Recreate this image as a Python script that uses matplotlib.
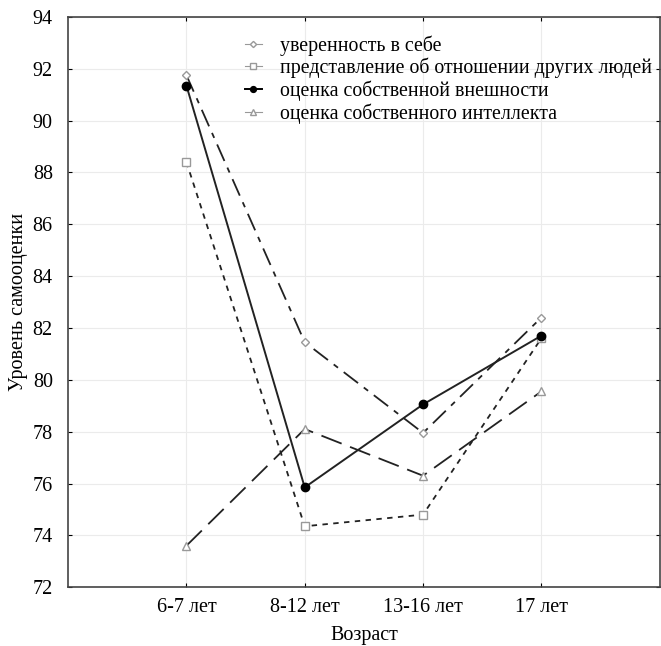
import matplotlib
matplotlib.use("Agg")
import matplotlib.pyplot as plt

plt.rcParams['font.family'] = ['Liberation Serif', 'DejaVu Serif']

# возрастные группы
ages = ["6-7 лет", "8-12 лет", "13-16 лет", "17 лет"]

# уровни самооценки по шкалам
confidence = [91.75, 81.45, 77.95, 82.4]
others_view = [88.4, 74.35, 74.8, 81.6]
appearance = [91.35, 75.85, 79.05, 81.7]
intellect = [73.6, 78.1, 76.3, 79.55]

labels = ["уверенность в себе",
          "представление об отношении других людей",
          "оценка собственной внешности",
          "оценка собственного интеллекта"]

x = list(range(1, len(ages) + 1))

fig = plt.figure(figsize=(6.61, 6.46), dpi=100)
ax = fig.add_axes([0.103, 0.091, 0.895, 0.883])

ax.plot(x, confidence, color='#222222', lw=1.3, dashes=(10, 4, 3, 4),
        marker='D', ms=4.5, mfc='white', mec='#999999', label=labels[0])
ax.plot(x, others_view, color='#222222', lw=1.3, dashes=(3, 3),
        marker='s', ms=5.5, mfc='white', mec='#999999', label=labels[1])
ax.plot(x, appearance, color='#222222', lw=1.4, ls='-',
        marker='o', ms=6, mfc='black', mec='black', label=labels[2])
ax.plot(x, intellect, color='#222222', lw=1.3, dashes=(12, 5),
        marker='^', ms=6, mfc='white', mec='#999999', label=labels[3])

ax.set_xlim(0, 5)
ax.set_ylim(72, 94)
ax.set_xticks(x)
ax.set_xticklabels(ages)
ax.set_yticks(range(72, 95, 2))
ax.tick_params(labelsize=14.5, direction='in', length=3, top=True, right=True)
ax.tick_params(axis='x', pad=8)
ax.tick_params(axis='y', pad=11)
ax.grid(color='#ebebeb', lw=0.8)
for s in ax.spines.values():
    s.set_color('#444444')
    s.set_linewidth(1.2)

ax.set_xlabel("Возраст", fontsize=14.5, labelpad=6)
ax.set_ylabel("Уровень самооценки", fontsize=14.5, labelpad=3)

leg = ax.legend(loc='upper left', bbox_to_anchor=(0.299, 0.968), frameon=False,
                fontsize=14.3, handlelength=0.85, handletextpad=0.9,
                labelspacing=0.12, markerscale=0.7, borderaxespad=0, borderpad=0)
for h in leg.get_lines():
    h.set_linestyle('-')
    h.set_linewidth(0.8)
    h.set_color('#999999')
leg.get_lines()[2].set_color('black')
leg.get_lines()[2].set_linewidth(1.4)

fig.savefig("out.png", dpi=100)
